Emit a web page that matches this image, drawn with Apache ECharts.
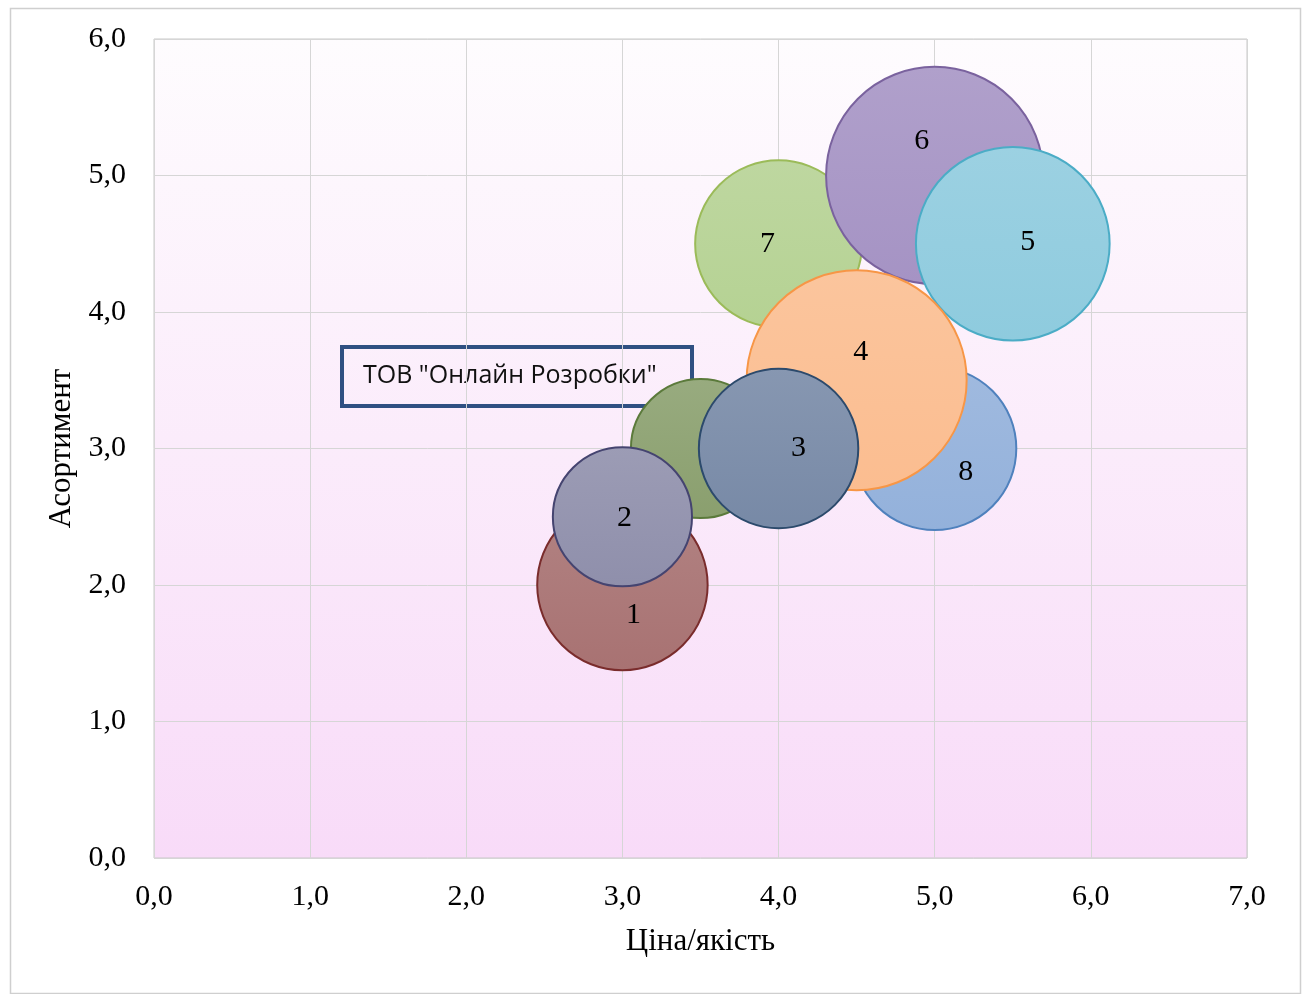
<!DOCTYPE html>
<html>
<head>
<meta charset="utf-8">
<script src="https://cdn.jsdelivr.net/npm/echarts@6/dist/echarts.min.js"></script>
<style>
  html, body { margin: 0; padding: 0; background: #ffffff; }
  #chart { width: 1306px; height: 994px; }
</style>
</head>
<body>
<div id="chart"></div>
<script>
// Competitor bubbles, listed in drawing order (later ones sit on top)
const names      = ['8', '7', '6', '5', '4', '', '3', '1', '2'];
const priceQual  = [5.0, 4.0, 5.0, 5.5, 4.5, 3.5, 4.0, 3.0, 3.0];   // Ціна/якість
const assortment = [3.0, 4.5, 5.0, 4.5, 3.5, 3.0, 3.0, 2.0, 2.5];   // Асортимент
const bubbleSize = [11, 11.5, 19.5, 15.5, 20, 8, 10.5, 12, 8];
const xTicks = ['0,0', '1,0', '2,0', '3,0', '4,0', '5,0', '6,0', '7,0'];
const yTicks = ['0,0', '1,0', '2,0', '3,0', '4,0', '5,0', '6,0'];
const companyLabel = 'ТОВ "Онлайн Розробки"';

// fill / border per bubble
const fills   = ['#93b1db', '#b5d293', '#a593c4', '#8ecbde', '#fbbd90', '#8a9f6e', '#7789a6', '#a87272', '#8f8fab'];
const borders = ['#4f81bd', '#9bbb59', '#7a629e', '#4bacc6', '#f79646', '#5b7a3b', '#2c4a6c', '#7a2c2c', '#454470'];
// label nudges (px) so numbers sit clear of neighbours
const labelShift = [[31, 24], [-11, 0], [-13, -34], [15, -2], [4, -28], [0, 0], [20, 0], [11, 30], [2, 1]];

function lighten(hex, t) {
  const n = parseInt(hex.slice(1), 16);
  const r = (n >> 16) & 255, g = (n >> 8) & 255, b = n & 255;
  const f = c => Math.round(c + (255 - c) * t);
  return 'rgb(' + f(r) + ',' + f(g) + ',' + f(b) + ')';
}

const K = 49.2; // diameter per sqrt(size)
const data = names.map((n, i) => ({
  name: n,
  value: [priceQual[i], assortment[i], bubbleSize[i]],
  itemStyle: {
    color: new echarts.graphic.LinearGradient(0, 0, 0, 1, [
      { offset: 0, color: lighten(fills[i], 0.12) },
      { offset: 1, color: fills[i] }
    ]),
    borderColor: borders[i],
    borderWidth: 2,
    opacity: 1
  },
  label: { offset: labelShift[i] }
}));

const chart = echarts.init(document.getElementById('chart'), null, { renderer: 'canvas' });
const serif = '"Liberation Serif", "Times New Roman", serif';

chart.setOption({
  backgroundColor: '#ffffff',
  animation: false,
  grid: {
    left: 154, right: 59, top: 39, bottom: 136,
    show: true,
    borderColor: '#c8c8c8',
    borderWidth: 1,
    backgroundColor: new echarts.graphic.LinearGradient(0, 0, 0, 1, [
      { offset: 0, color: '#fefcfe' },
      { offset: 1, color: '#f8dbf8' }
    ])
  },
  xAxis: {
    type: 'value', min: 0, max: 7, interval: 1,
    name: 'Ціна/якість', nameLocation: 'middle', nameGap: 68,
    nameTextStyle: { fontFamily: serif, fontSize: 31, color: '#000' },
    axisLine: { show: false }, axisTick: { show: false },
    axisLabel: {
      fontFamily: serif, fontSize: 30, color: '#000', margin: 24,
      formatter: (v) => xTicks[Math.round(v)]
    },
    splitLine: { show: true, lineStyle: { color: '#d6d6d6', width: 1 } }
  },
  yAxis: {
    type: 'value', min: 0, max: 6, interval: 1,
    name: 'Асортимент', nameLocation: 'middle', nameGap: 77, nameRotate: 90,
    nameTextStyle: { fontFamily: serif, fontSize: 31, color: '#000' },
    axisLine: { show: false }, axisTick: { show: false },
    axisLabel: {
      fontFamily: serif, fontSize: 30, color: '#000', margin: 28,
      formatter: (v) => yTicks[Math.round(v)]
    },
    splitLine: { show: true, lineStyle: { color: '#d6d6d6', width: 1 } }
  },
  series: [{
    type: 'scatter',
    symbol: 'circle',
    symbolSize: (val) => K * Math.sqrt(val[2]),
    data: data,
    itemStyle: { opacity: 1 },
    label: {
      show: true, position: 'inside',
      formatter: (p) => p.name,
      fontFamily: serif, fontSize: 30, color: '#000'
    },
    emphasis: { disabled: true }
  }],
  graphic: [{
    type: 'group', left: 340, top: 345,
    children: [
      { type: 'rect', shape: { x: 0, y: 0, width: 350, height: 59 },
        style: { fill: 'rgba(0,0,0,0)', stroke: '#2f5082', lineWidth: 4 } },
      { type: 'text', x: 21, y: 29,
        style: { text: companyLabel, fontFamily: '"Open Sans", "Liberation Sans", sans-serif',
                 fontSize: 25, fill: '#111', verticalAlign: 'middle' } }
    ]
  }, {
    type: 'rect', left: 8, top: 6,
    shape: { x: 0, y: 0, width: 1290, height: 985 },
    style: { fill: 'none', stroke: '#cfcfcf', lineWidth: 1.5 },
    silent: true
  }]
});
</script>
</body>
</html>
